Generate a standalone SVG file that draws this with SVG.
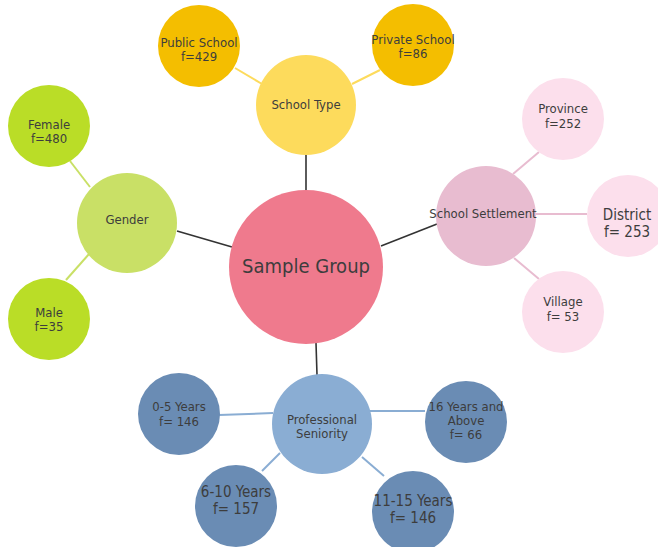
<svg xmlns="http://www.w3.org/2000/svg" width="658" height="547" viewBox="0 0 658 547">
<style>
text{font-family:"DejaVu Sans Condensed","Liberation Sans Narrow","Liberation Sans",sans-serif;fill:#3d3d3d;text-anchor:middle;dominant-baseline:central;font-size:13px}
.big{font-size:15px}
.huge{font-size:20px}
.main{stroke:#333;stroke-width:1.6}
.y{stroke:#FDDB5C;stroke-width:2}
.g{stroke:#C9E066;stroke-width:2}
.p{stroke:#E8BCD0;stroke-width:2}
.b{stroke:#8AADD3;stroke-width:2}
</style>
<rect width="658" height="547" fill="#fff"/>
<g id="connectors">
<line class="main" x1="306" y1="155" x2="306" y2="191"/>
<line class="main" x1="177" y1="231" x2="232" y2="247"/>
<line class="main" x1="381" y1="246" x2="437" y2="224"/>
<line class="main" x1="316" y1="343" x2="317" y2="375"/>
<line class="y" x1="235" y1="68" x2="262" y2="84"/>
<line class="y" x1="380" y1="70" x2="352" y2="84"/>
<line class="g" x1="70" y1="161" x2="90" y2="187"/>
<line class="g" x1="66" y1="280" x2="89" y2="254"/>
<line class="p" x1="513" y1="174" x2="539" y2="152"/>
<line class="p" x1="536" y1="214" x2="587" y2="214"/>
<line class="p" x1="514" y1="258" x2="539" y2="279"/>
<line class="b" x1="219" y1="415" x2="273" y2="413"/>
<line class="b" x1="370" y1="411" x2="425" y2="411"/>
<line class="b" x1="262" y1="471" x2="280" y2="453"/>
<line class="b" x1="362" y1="457" x2="384" y2="476"/>
</g>
<g id="sample-group"><circle cx="306" cy="267" r="77" fill="#EF7A8D"/><text x="306" y="266" class="huge">Sample Group</text></g>
<g id="school-type"><circle cx="306" cy="105" r="50" fill="#FDDB5C"/><text x="306" y="104">School Type</text></g>
<g id="public-school"><circle cx="199" cy="46" r="41" fill="#F4BE00"/><text x="199" y="42">Public School</text><text x="199" y="56">f=429</text></g>
<g id="private-school"><circle cx="413" cy="45" r="41" fill="#F4BE00"/><text x="413" y="39">Private School</text><text x="413" y="53">f=86</text></g>
<g id="gender"><circle cx="127" cy="223" r="50" fill="#C9E066"/><text x="127" y="219">Gender</text></g>
<g id="female"><circle cx="49" cy="126" r="41" fill="#BADD27"/><text x="49" y="124">Female</text><text x="49" y="138">f=480</text></g>
<g id="male"><circle cx="49" cy="319" r="41" fill="#BADD27"/><text x="49" y="312">Male</text><text x="49" y="326">f=35</text></g>
<g id="school-settlement"><circle cx="486" cy="216" r="50" fill="#E8BCD0"/><text x="483" y="213">School Settlement</text></g>
<g id="province"><circle cx="563" cy="119" r="41" fill="#FCDFEC"/><text x="563" y="108">Province</text><text x="563" y="123">f=252</text></g>
<g id="district"><circle cx="628" cy="216" r="41" fill="#FCDFEC"/><text x="627" y="215" class="big">District</text><text x="627" y="232" class="big">f= 253</text></g>
<g id="village"><circle cx="563" cy="312" r="41" fill="#FCDFEC"/><text x="563" y="301">Village</text><text x="563" y="316">f= 53</text></g>
<g id="professional-seniority"><circle cx="322" cy="424" r="50" fill="#8AADD3"/><text x="322" y="419">Professional</text><text x="322" y="433">Seniority</text></g>
<g id="years-0-5"><circle cx="179" cy="414" r="41" fill="#6A8CB4"/><text x="179" y="406">0-5 Years</text><text x="179" y="421">f= 146</text></g>
<g id="years-16-above"><circle cx="466" cy="422" r="41" fill="#6A8CB4"/><text x="466" y="406">16 Years and</text><text x="466" y="420">Above</text><text x="466" y="434">f= 66</text></g>
<g id="years-6-10"><circle cx="236" cy="506" r="41" fill="#6A8CB4"/><text x="236" y="492" class="big">6-10 Years</text><text x="236" y="509" class="big">f= 157</text></g>
<g id="years-11-15"><circle cx="413" cy="512" r="41" fill="#6A8CB4"/><text x="413" y="501" class="big">11-15  Years</text><text x="413" y="518" class="big">f= 146</text></g>
</svg>
